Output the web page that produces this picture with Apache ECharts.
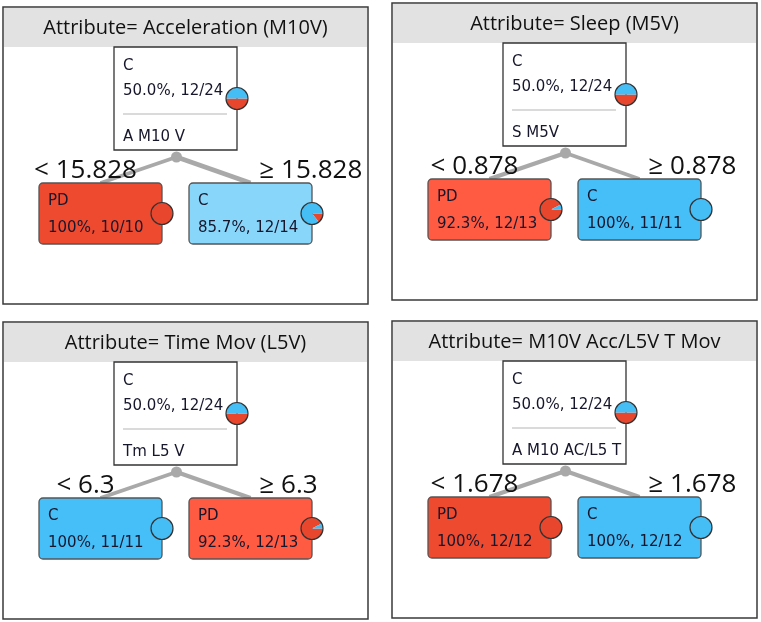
<!DOCTYPE html>
<html><head><meta charset="utf-8">
<script src="https://cdn.jsdelivr.net/npm/echarts@6/dist/echarts.min.js"></script>
<style>html,body{margin:0;padding:0;background:#fff}#c{width:761px;height:622px}</style>
</head><body><div id="c"></div>
<script>
// ---- data ----
const titles = ['Attribute= Acceleration (M10V)', 'Attribute= Sleep (M5V)', 'Attribute= Time Mov (L5V)', 'Attribute= M10V Acc/L5V T Mov'];
const splitAttrs = ['A M10 V', 'S M5V', 'Tm L5 V', 'A M10 AC/L5 T'];
const thresholds = ['15.828', '0.878', '6.3', '1.678'];
const rootClass = ['C', 'C', 'C', 'C'];
const rootC = [12, 12, 12, 12];
const rootPD = [12, 12, 12, 12];
const leftClass = ['PD', 'PD', 'C', 'PD'];
const leftC = [0, 1, 11, 0];
const leftPD = [10, 12, 0, 12];
const rightClass = ['C', 'C', 'PD', 'C'];
const rightC = [12, 11, 1, 12];
const rightPD = [2, 0, 12, 0];

// ---- layout / style ----
const panelPos = [[3, 7], [392, 3], [3, 322], [392, 321]];
const PW = 365, PH = 297, HEAD = 40;
const ROOT = {cx: 172.5, top: 40, w: 123, h: 103};
const CHILD = {top: 176, w: 123, h: 61, dx: 75};
const DOT_Y = 150, PIE_R = 11;
const BLUE = '#45bdf5', RED = '#e8472d';
const NODE_FONT = '"DejaVu Sans", sans-serif';
const BIG_FONT = '"Open Sans", sans-serif';
const TXT = '#16162c';

function pctText(maj, total) {
  const p = maj / total * 100;
  return (p === 100 ? '100' : p.toFixed(1)) + '%, ' + maj + '/' + total;
}
function nodeFill(cls, purity, isRoot) {
  if (isRoot) return '#ffffff';
  if (cls === 'C') return purity >= 0.999 ? '#46bff8' : '#88d7fb';
  return purity >= 0.999 ? '#ee4a2f' : '#ff5a42';
}

function buildNodes(i) {
  const mk = (cls, c, pd, cx, top, w, h, isRoot, side) => {
    const total = c + pd, maj = cls === 'C' ? c : pd;
    return {cls, c, pd, total, maj, cx, top, w, h, isRoot, side};
  };
  return [
    {kind: 'panel'},
    {kind: 'edges'},
    Object.assign({kind: 'node'}, mk(rootClass[i], rootC[i], rootPD[i], ROOT.cx, ROOT.top, ROOT.w, ROOT.h, true, 0)),
    Object.assign({kind: 'node'}, mk(leftClass[i], leftC[i], leftPD[i], ROOT.cx - CHILD.dx, CHILD.top, CHILD.w, CHILD.h, false, -1)),
    Object.assign({kind: 'node'}, mk(rightClass[i], rightC[i], rightPD[i], ROOT.cx + CHILD.dx, CHILD.top, CHILD.w, CHILD.h, false, 1))
  ];
}

function makeRender(i, nodes) {
  return function (params, api) {
    const n = nodes[params.dataIndex];
    const P = (x, y) => api.coord([x, y]);
    if (n.kind === 'panel') {
      const a = P(0, 0), b = P(PW, PH), h = P(PW, HEAD);
      return {type: 'group', children: [
        {type: 'rect', shape: {x: a[0], y: a[1], width: b[0] - a[0], height: b[1] - a[1]}, style: {fill: '#fff', stroke: '#3a3a3a', lineWidth: 1.5}},
        {type: 'rect', shape: {x: a[0] + 1, y: a[1] + 1, width: h[0] - a[0] - 2, height: h[1] - a[1] - 1}, style: {fill: '#e2e2e2'}},
        {type: 'text', style: {text: titles[i], x: (a[0] + b[0]) / 2, y: (a[1] + h[1]) / 2 + 1, align: 'center', verticalAlign: 'middle', textAlign: 'center', textVerticalAlign: 'middle', fontSize: 20, fontFamily: BIG_FONT, fill: '#111'}}
      ]};
    }
    if (n.kind === 'edges') {
      const d = P(ROOT.cx + 1, DOT_Y);
      const kids = [nodes[3], nodes[4]];
      const ch = kids.map(k => {
        const e = P(k.cx, k.top);
        return {type: 'line', shape: {x1: d[0], y1: d[1], x2: e[0], y2: e[1]}, style: {stroke: '#a9a9a9', lineWidth: 1.5 + k.total * 0.22}};
      });
      ch.push({type: 'circle', shape: {cx: d[0], cy: d[1], r: 5.5}, style: {fill: '#a9a9a9'}});
      return {type: 'group', children: ch};
    }
    // node
    const a = P(n.cx - n.w / 2, n.top), b = P(n.cx + n.w / 2, n.top + n.h);
    const purity = n.maj / n.total;
    const ch = [];
    ch.push({type: 'rect', shape: {x: a[0], y: a[1], width: b[0] - a[0], height: b[1] - a[1], r: n.isRoot ? 0 : 4},
      style: {fill: nodeFill(n.cls, purity, n.isRoot), stroke: n.isRoot ? '#333' : '#555', lineWidth: 1.3}});
    const tx = a[0] + 9;
    const txt = (s, y) => ({type: 'text', style: {text: s, x: tx, y: y, align: 'left', verticalAlign: 'middle', textAlign: 'left', textVerticalAlign: 'middle', fontSize: 15, fontFamily: NODE_FONT, fill: TXT}});
    if (n.isRoot) {
      ch.push(txt(n.cls, a[1] + 19));
      ch.push(txt(pctText(n.maj, n.total), a[1] + 44));
      ch.push({type: 'line', shape: {x1: tx, y1: a[1] + 67, x2: b[0] - 10, y2: a[1] + 67}, style: {stroke: '#b5b5b5', lineWidth: 1.2}});
      ch.push(txt(splitAttrs[i], a[1] + 90));
    } else {
      ch.push(txt(n.cls, a[1] + 18));
      ch.push(txt(pctText(n.maj, n.total), a[1] + 45));
      const lp = P(n.side < 0 ? n.cx - 15 : n.cx + 9, 164);
      ch.push({type: 'text', style: {text: (n.side < 0 ? '< ' : '\u2265 ') + thresholds[i], x: lp[0], y: lp[1],
        align: n.side < 0 ? 'center' : 'left', textAlign: n.side < 0 ? 'center' : 'left', verticalAlign: 'middle', textVerticalAlign: 'middle',
        fontSize: 26, fontFamily: BIG_FONT, fill: '#111'}});
    }
    // pie
    const pc = [b[0], (a[1] + b[1]) / 2];
    const fr = n.pd / n.total;
    if (fr <= 0 || fr >= 1) {
      ch.push({type: 'circle', shape: {cx: pc[0], cy: pc[1], r: PIE_R}, style: {fill: fr >= 1 ? RED : BLUE, stroke: '#333', lineWidth: 1.2}});
    } else {
      ch.push({type: 'sector', shape: {cx: pc[0], cy: pc[1], r0: 0, r: PIE_R, startAngle: 0, endAngle: fr * Math.PI * 2, clockwise: true}, style: {fill: RED}});
      ch.push({type: 'sector', shape: {cx: pc[0], cy: pc[1], r0: 0, r: PIE_R, startAngle: fr * Math.PI * 2, endAngle: Math.PI * 2, clockwise: true}, style: {fill: BLUE}});
      ch.push({type: 'circle', shape: {cx: pc[0], cy: pc[1], r: PIE_R}, style: {fill: 'none', stroke: '#333', lineWidth: 1.2}});
    }
    return {type: 'group', children: ch};
  };
}

const grids = [], xAxes = [], yAxes = [], series = [];
for (let i = 0; i < 4; i++) {
  grids.push({left: panelPos[i][0], top: panelPos[i][1], width: PW, height: PH, containLabel: false});
  xAxes.push({type: 'value', gridIndex: i, min: 0, max: PW, show: false});
  yAxes.push({type: 'value', gridIndex: i, min: 0, max: PH, inverse: true, show: false});
  const nodes = buildNodes(i);
  series.push({type: 'custom', xAxisIndex: i, yAxisIndex: i, clip: false, silent: true,
    data: nodes.map((n, k) => [k]), renderItem: makeRender(i, nodes), animation: false});
}

const chart = echarts.init(document.getElementById('c'), null, {renderer: 'canvas'});
chart.setOption({animation: false, grid: grids, xAxis: xAxes, yAxis: yAxes, series: series});
</script></body></html>
